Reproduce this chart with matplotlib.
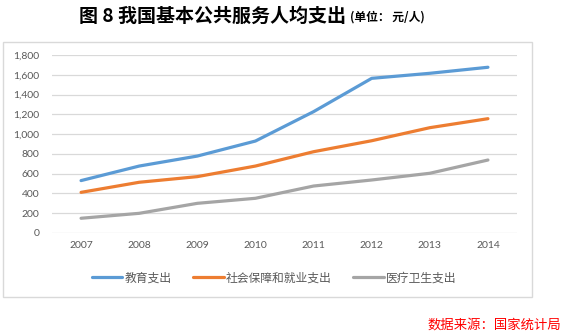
import matplotlib
matplotlib.use("Agg")
import matplotlib.pyplot as plt
from matplotlib.patches import Rectangle

plt.rcParams['font.family'] = ['Noto Sans CJK SC', 'DejaVu Sans']

years = ["2007", "2008", "2009", "2010", "2011", "2012", "2013", "2014"]
education = [530, 677, 778, 930, 1227, 1564, 1615, 1676]
social = [411, 513, 570, 677, 822, 933, 1065, 1156]
health = [149, 199, 300, 351, 475, 536, 604, 738]
series_names = ["教育支出", "社会保障和就业支出", "医疗卫生支出"]
yticks = [0, 200, 400, 600, 800, 1000, 1200, 1400, 1600, 1800]

W, H = 564, 336
fig = plt.figure(figsize=(W / 100, H / 100), dpi=100)

# chart frame
fig.patches.append(Rectangle((3 / W, 1 - 297 / H), (532 - 3) / W, (297 - 42) / H,
                             transform=fig.transFigure, fill=False,
                             edgecolor="#D9D9D9", linewidth=1.0))

ax = fig.add_axes([52 / W, 1 - 233 / H, (517 - 52) / W, (233 - 55) / H])
x = list(range(len(years)))
colors = ["#5B9BD5", "#ED7D31", "#A5A5A5"]
for vals, name, c in zip([education, social, health], series_names, colors):
    ax.plot(x, vals, color=c, linewidth=2.3, label=name, solid_capstyle="round")

ax.set_xlim(-0.5, len(years) - 0.5)
ax.set_ylim(0, 1800)
ax.set_yticks(yticks)
ax.set_yticklabels([f"{v:,}" for v in yticks])
ax.set_xticks(x)
ax.set_xticklabels(years)
ax.grid(axis="y", color="#D9D9D9", linewidth=0.9)
ax.set_axisbelow(True)
for s in ax.spines.values():
    s.set_visible(False)
ax.tick_params(axis="both", length=0, labelsize=7.5, labelcolor="#595959")
ax.tick_params(axis="y", pad=9)
ax.tick_params(axis="x", pad=6)
for lab in ax.get_xticklabels() + ax.get_yticklabels():
    lab.set_family(["Lato", "DejaVu Sans"])

fig.legend(loc="center", bbox_to_anchor=(274 / W, 1 - 278 / H), ncol=3,
           frameon=False, fontsize=8.5, handlelength=2.6, handletextpad=0.2,
           columnspacing=1.8, labelcolor="#595959")

fig.text(79 / W, 1 - 16 / H, "图 8 我国基本公共服务人均支出", fontsize=13.7,
         fontweight="bold", ha="left", va="center", color="black")
fig.text(350 / W, 1 - 17 / H, "(单位： 元/人)", fontsize=8.5,
         fontweight="bold", ha="left", va="center", color="black")
fig.text(561 / W, 1 - 325 / H, "数据来源：国家统计局", fontsize=9.6,
         ha="right", va="center", color="#FF0000", style="italic")

fig.savefig("out.png", dpi=100)
